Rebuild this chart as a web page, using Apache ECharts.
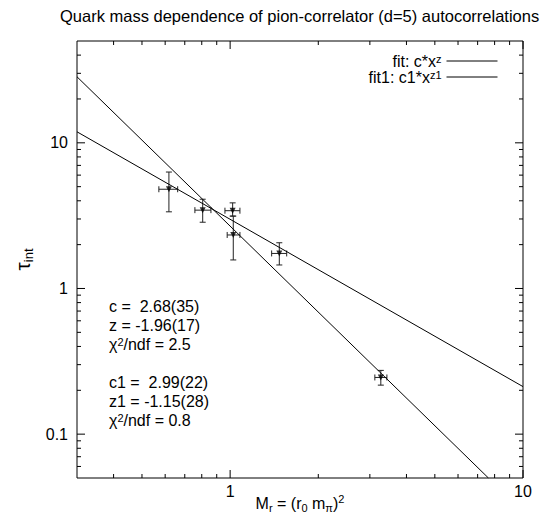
<!DOCTYPE html>
<html><head><meta charset="utf-8">
<script src="https://cdn.jsdelivr.net/npm/echarts@6/dist/echarts.min.js"></script>
<style>html,body{margin:0;padding:0;background:#fff}#c{width:546px;height:518px}</style>
</head><body><div id="c"></div>
<script>
// ---- data ----
const xVals = [0.618, 0.806, 1.020, 1.025, 1.472, 3.27];
const yVals = [4.80, 3.45, 3.42, 2.33, 1.74, 0.245];
const xLo   = [0.571, 0.758, 0.960, 0.977, 1.386, 3.12];
const xHi   = [0.662, 0.860, 1.080, 1.080, 1.560, 3.43];
const yLo   = [3.36, 2.85, 3.14, 1.57, 1.45, 0.217];
const yHi   = [6.30, 4.10, 3.87, 3.14, 2.06, 0.274];
// fit lines (endpoints)
const fitX  = [0.3, 7.62];
const fitY  = [28.4, 0.05];
const fit1X = [0.3, 10];
const fit1Y = [11.9, 0.212];
// ticks
const xMajorTicks = [1, 10];
const xMinorTicks = [0.4, 0.5, 0.6, 0.7, 0.8, 0.9, 2, 3, 4, 5, 6, 7, 8, 9];
const yMajorTicks = [0.1, 1, 10];
const yMinorTicks = [0.06, 0.07, 0.08, 0.09, 0.2, 0.3, 0.4, 0.5, 0.6, 0.7, 0.8, 0.9, 2, 3, 4, 5, 6, 7, 8, 9, 20, 30, 40];
const xTickLabels = ['1', '10'];
const yTickLabels = ['0.1', '1', '10'];
const fitNames = ['fit: c*x^z', 'fit1: c1*x^z1'];
const fitText = ['c = \u00a02.68(35)', 'z = -1.96(17)', 'χ{sup|2}/ndf = 2.5', '', 'c1 = \u00a02.99(22)', 'z1 = -1.15(28)', 'χ{sup|2}/ndf = 0.8'];

const X_MIN = 0.3, X_MAX = 10, Y_MIN = 0.05, Y_MAX = 50;
const FONT = 'Liberation Sans, Arial, Helvetica, sans-serif';
const FS = 16;

const chart = echarts.init(document.getElementById('c'), null, {renderer: 'svg'});

function tickSeries(axis, vals, major) {
  return {
    type: 'custom', silent: true, clip: false, z: 5,
    data: vals.map(v => axis === 'x' ? [v, 1] : [1, v]),
    encode: {x: 0, y: 1},
    renderItem: (params, api) => {
      const len = major ? 8 : 4;
      const st = {stroke: '#000', lineWidth: 1};
      if (axis === 'x') {
        const v = api.value(0);
        const b = api.coord([v, Y_MIN]), t = api.coord([v, Y_MAX]);
        return {type: 'group', children: [
          {type: 'line', shape: {x1: b[0], y1: b[1], x2: b[0], y2: b[1] - len}, style: st},
          {type: 'line', shape: {x1: t[0], y1: t[1], x2: t[0], y2: t[1] + len}, style: st}
        ]};
      } else {
        const v = api.value(1);
        const l = api.coord([X_MIN, v]), r = api.coord([X_MAX, v]);
        return {type: 'group', children: [
          {type: 'line', shape: {x1: l[0], y1: l[1], x2: l[0] + len, y2: l[1]}, style: st},
          {type: 'line', shape: {x1: r[0], y1: r[1], x2: r[0] - len, y2: r[1]}, style: st}
        ]};
      }
    }
  };
}

function labelSeries(axis, vals, labels) {
  return {
    type: 'custom', silent: true, clip: false, z: 5,
    data: vals.map(v => axis === 'x' ? [v, 1] : [1, v]),
    encode: {x: 0, y: 1},
    renderItem: (params, api) => {
      if (axis === 'x') {
        const b = api.coord([api.value(0), Y_MIN]);
        return {type: 'text', style: {text: labels[params.dataIndex], x: b[0], y: b[1] + 13,
          align: 'center', verticalAlign: 'middle', fontSize: FS, fontFamily: FONT, fill: '#000'}};
      } else {
        const l = api.coord([X_MIN, api.value(1)]);
        return {type: 'text', style: {text: labels[params.dataIndex], x: l[0] - 9, y: l[1],
          align: 'right', verticalAlign: 'middle', fontSize: FS, fontFamily: FONT, fill: '#000'}};
      }
    }
  };
}

const errData = xVals.map((x, i) => [x, yVals[i], xLo[i], xHi[i], yLo[i], yHi[i]]);

const graphicTexts = [];
fitText.forEach((t, i) => {
  if (!t) return;
  graphicTexts.push({
    type: 'text', left: 109, top: 298 + i * 19,
    style: {text: t, fontSize: FS, fontFamily: FONT, fill: '#000',
      rich: {sup: {fontSize: 11, fontFamily: FONT, verticalAlign: 'top', lineHeight: 10}}}
  });
});

const option = {
  animation: false,
  backgroundColor: '#fff',
  title: {
    text: 'Quark mass dependence of pion-correlator (d=5) autocorrelations',
    left: 55, top: 2,
    textStyle: {fontSize: 16.5, fontWeight: 'normal', color: '#000', fontFamily: FONT}
  },
  grid: {left: 77, right: 23, top: 41, bottom: 34, show: true, borderColor: '#000', borderWidth: 1, backgroundColor: 'transparent'},
  legend: {
    data: fitNames, orient: 'vertical', right: 43, top: 48, align: 'right',
    itemWidth: 51, itemHeight: 14, itemGap: 0,
    itemStyle: {opacity: 0},
    lineStyle: {width: 1, color: '#000'},
    textStyle: {fontSize: FS, color: '#000', fontFamily: FONT, lineHeight: 15,
      rich: {sup: {fontSize: 11, fontFamily: FONT, verticalAlign: 'top', lineHeight: 10}}},
    formatter: n => n === fitNames[0] ? 'fit: c*x{sup|z}' : 'fit1: c1*x{sup|z1}'
  },
  xAxis: {
    type: 'log', logBase: 10, min: X_MIN, max: X_MAX,
    axisLine: {show: false}, axisTick: {show: false}, axisLabel: {show: false}, splitLine: {show: false}, minorTick: {show: false},
    name: 'M{sub|r} = (r{sub|0} m{sub|π}){sup|2}', nameLocation: 'middle', nameGap: 15,
    nameTextStyle: {fontSize: FS, color: '#000', fontFamily: FONT, lineHeight: 20,
      rich: {
        sub: {fontSize: 11, fontFamily: FONT, verticalAlign: 'bottom', lineHeight: 11},
        sup: {fontSize: 11, fontFamily: FONT, verticalAlign: 'top', lineHeight: 11}
      }}
  },
  yAxis: {
    type: 'log', logBase: 10, min: Y_MIN, max: Y_MAX,
    axisLine: {show: false}, axisTick: {show: false}, axisLabel: {show: false}, splitLine: {show: false}, minorTick: {show: false},
    name: '{t|τ}{sub|int}', nameLocation: 'middle', nameRotate: 90, nameGap: 42,
    nameTextStyle: {color: '#000', fontFamily: FONT,
      rich: {
        t: {fontSize: 21, fontFamily: FONT, lineHeight: 26, verticalAlign: 'middle'},
        sub: {fontSize: 13, fontFamily: FONT, verticalAlign: 'bottom', lineHeight: 13}
      }}
  },
  graphic: graphicTexts,
  series: [
    tickSeries('x', xMajorTicks, true),
    tickSeries('x', xMinorTicks, false),
    tickSeries('y', yMajorTicks, true),
    tickSeries('y', yMinorTicks, false),
    labelSeries('x', xMajorTicks, xTickLabels),
    labelSeries('y', yMajorTicks, yTickLabels),
    {
      name: fitNames[0], type: 'line', symbol: 'none', silent: true, clip: true,
      data: fitX.map((x, i) => [x, fitY[i]]),
      lineStyle: {color: '#000', width: 1}, itemStyle: {color: '#000'}
    },
    {
      name: fitNames[1], type: 'line', symbol: 'none', silent: true, clip: true,
      data: fit1X.map((x, i) => [x, fit1Y[i]]),
      lineStyle: {color: '#000', width: 1}, itemStyle: {color: '#000'}
    },
    {
      type: 'custom', silent: true, z: 3,
      data: errData, encode: {x: 0, y: 1},
      renderItem: (params, api) => {
        const x = api.value(0), y = api.value(1);
        const l = api.coord([api.value(2), y]), r = api.coord([api.value(3), y]);
        const lo = api.coord([x, api.value(4)]), hi = api.coord([x, api.value(5)]);
        const c = api.coord([x, y]);
        const cap = 3;
        const st = {stroke: '#222', lineWidth: 1};
        return {type: 'group', children: [
          {type: 'line', shape: {x1: l[0], y1: c[1], x2: r[0], y2: c[1]}, style: st},
          {type: 'line', shape: {x1: l[0], y1: c[1] - cap, x2: l[0], y2: c[1] + cap}, style: st},
          {type: 'line', shape: {x1: r[0], y1: c[1] - cap, x2: r[0], y2: c[1] + cap}, style: st},
          {type: 'line', shape: {x1: c[0], y1: lo[1], x2: c[0], y2: hi[1]}, style: st},
          {type: 'line', shape: {x1: c[0] - cap, y1: lo[1], x2: c[0] + cap, y2: lo[1]}, style: st},
          {type: 'line', shape: {x1: c[0] - cap, y1: hi[1], x2: c[0] + cap, y2: hi[1]}, style: st}
        ]};
      }
    },
    {
      type: 'scatter', silent: true, z: 4,
      data: xVals.map((x, i) => [x, yVals[i]]),
      symbol: 'triangle', symbolRotate: 180, symbolSize: 6,
      itemStyle: {color: '#000'}
    }
  ]
};
chart.setOption(option);
</script>
</body></html>
